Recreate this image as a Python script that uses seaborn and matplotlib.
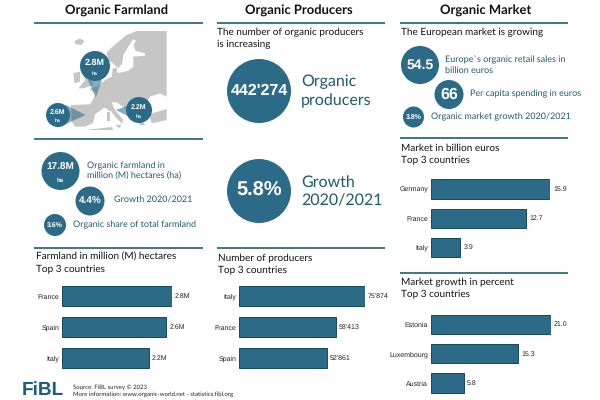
import seaborn as sns
import pandas as pd
import matplotlib.pyplot as plt
from matplotlib.patches import Circle, Polygon

TEAL = "#2b6b87"
DARK = "#14495e"
TXT = "#1f5b70"
RULE = "#1d5f72"
LAND = "#c6c6c6"
GILL = "Lato"
ARIAL = "Liberation Sans"

farm_countries = ["France", "Spain", "Italy"]
farm_values = [2.78, 2.64, 2.19]
farm_labels = ["2.8M", "2.6M", "2.2M"]
prod_countries = ["Italy", "France", "Spain"]
prod_values = [75874, 58413, 52861]
prod_labels = ["75'874", "58'413", "52'861"]
market_countries = ["Germany", "France", "Italy"]
market_values = [15.9, 12.7, 3.9]
growth_countries = ["Estonia", "Luxembourg", "Austria"]
growth_values = [21.0, 15.3, 5.8]

sns.set_theme(style="white")
plt.rcParams["font.family"] = GILL
plt.rcParams["text.hinting"] = "no_hinting"
plt.rcParams["text.hinting_factor"] = 1

fig = plt.figure(figsize=(6, 4), dpi=100, facecolor="white")
# full-figure axes in pixel units for rules, bubbles and text
bg = fig.add_axes([0, 0, 1, 1])
bg.set_xlim(0, 600)
bg.set_ylim(400, 0)
bg.axis("off")


def bars(left, top, width, height, names, values, labels):
    ax = fig.add_axes([left / 600, 1 - (top + height) / 400, width / 600, height / 400])
    df = pd.DataFrame({"name": names, "value": values})
    sns.barplot(data=df, x="value", y="name", color=TEAL, saturation=1, width=0.66,
                edgecolor=DARK, linewidth=0.7, ax=ax)
    ax.set_xlim(0, max(values))
    ax.set_xlabel("")
    ax.set_ylabel("")
    ax.set_xticks([])
    ax.tick_params(axis="y", length=0, pad=2)
    for t in ax.get_yticklabels():
        t.set_fontfamily(ARIAL)
        t.set_fontsize(4.7)
        t.set_color("#222222")
    for b, lab in zip(ax.patches, labels):
        ax.annotate(lab, (b.get_width(), b.get_y() + b.get_height() / 2), xytext=(2.2, 0),
                    textcoords="offset points", va="center", fontsize=4.8,
                    family=ARIAL, color="#222222", annotation_clip=False)
    sns.despine(ax=ax, left=True, bottom=True)
    ax.patch.set_alpha(0)


def bubble(x, y, r, text, size, unit=None):
    bg.add_patch(Circle((x, y), r, fc=TEAL, ec="none", zorder=5))
    if unit:
        bg.text(x, y - r * 0.2, text, ha="center", va="center", color="white", weight="bold",
                family=ARIAL, fontsize=size, zorder=6)
        bg.text(x, y + r * 0.5, unit, ha="center", va="center", color="white", weight="bold",
                family=ARIAL, fontsize=max(size * 0.6, 3.6), zorder=6)
    else:
        bg.text(x, y, text, ha="center", va="center", color="white", weight="bold",
                family=ARIAL, fontsize=size, zorder=6)


def rule(x0, x1, y):
    bg.plot([x0, x1], [y, y], color=RULE, lw=1.2, solid_capstyle="butt")


def label(x, y, text, size=6.3, color=TXT):
    bg.text(x, y, text, ha="left", va="center", fontsize=size, color=color)


# column headers
for cx, head in [(117, "Organic Farmland"), (299, "Organic Producers"), (486, "Organic Market")]:
    bg.text(cx, 11, head, ha="center", va="center", fontsize=9.5, weight="bold", color="#111111")

rule(34, 203, 23)
rule(34, 203, 138.5)
rule(34, 203, 247.5)
rule(217, 385, 23)
rule(217, 385, 247.5)
rule(400, 568, 23)
rule(400, 568, 137.5)
rule(400, 568, 273)

# rough map of Europe, traced from a 3x crop starting at (65, 25)
land = [
    [(18, 240), (75, 238), (95, 205), (72, 192), (100, 183), (120, 165), (140, 155), (143, 130), (155, 128),
     (158, 145), (190, 137), (205, 125), (205, 95), (240, 92), (240, 85), (212, 78), (205, 60), (213, 48),
     (205, 42), (190, 65), (175, 90), (172, 115), (160, 130), (140, 112), (128, 105), (125, 82), (150, 58),
     (185, 30), (215, 18), (305, 18), (305, 215), (285, 205), (255, 215), (245, 235), (252, 250), (240, 255),
     (245, 275), (232, 285), (240, 300), (225, 300), (205, 275), (180, 250), (155, 232), (140, 232),
     (150, 255), (175, 285), (170, 295), (155, 280), (135, 255), (118, 248), (90, 268), (84, 294), (60, 305),
     (30, 305), (20, 290)],
    [(252, 268), (305, 252), (305, 285), (260, 295)],
    [(50, 105), (65, 115), (75, 160), (85, 180), (55, 190), (40, 190), (60, 165)],
    [(25, 145), (45, 140), (45, 170), (28, 175)],
    [(28, 48), (45, 40), (58, 48), (50, 60), (32, 58)],
    [(127, 262), (136, 262), (136, 288), (127, 288)],
    [(128, 245), (134, 245), (134, 258), (128, 258)],
    [(150, 302), (168, 298), (165, 310)],
    [(62, 315), (140, 306), (145, 315)],
]
for poly in land:
    pts = [(65 + zx / 3, 25 + zy / 3) for zx, zy in poly]
    bg.add_patch(Polygon(pts, fc=LAND, ec="none", zorder=1))

for tri in [[(88, 80), (102, 80), (95.7, 97.7)], [(66, 105), (66, 124), (85.7, 115)], [(130, 105), (130, 117), (115.7, 110)]]:
    bg.add_patch(Polygon(tri, fc=TEAL, ec="none", alpha=0.55, zorder=2))

bubble(95, 66, 15, "2.8M", 6.4, "ha")
bubble(58, 115, 12, "2.6M", 4.9, "ha")
bubble(139, 110, 13, "2.2M", 4.9, "ha")

# farmland figures
bubble(60.5, 171, 19, "17.8M", 7.4, "ha")
bubble(90, 201, 14.5, "4.4%", 7.4)
bubble(55, 225, 11, "3.6%", 4.9)
label(87, 166, "Organic farmland in")
label(87, 176, "million (M) hectares (ha)")
label(114, 200.5, "Growth 2020/2021")
label(73, 224.5, "Organic share of total farmland")

label(36, 257, "Farmland in million (M) hectares", 7.3, "#111111")
label(36, 269, "Top 3 countries", 7.3, "#111111")
bars(62, 280.5, 110, 93, farm_countries, farm_values, farm_labels)

# producers
label(217, 32, "The number of organic producers", 7.3, "#111111")
label(217, 44, "is increasing", 7.3, "#111111")
bubble(259, 91, 32, "442'274", 11.3)
label(301, 82, "Organic", 11.8)
label(301, 101, "producers", 11.8)
bubble(259, 191, 32, "5.8%", 14.5)
label(301, 182, "Growth", 11.8)
label(301, 201, "2020/2021", 11.8)

label(218, 258, "Number of producers", 7.3, "#111111")
label(218, 270, "Top 3 countries", 7.3, "#111111")
bars(239, 280.5, 126, 93, prod_countries, prod_values, prod_labels)

# market
label(401, 32, "The European market is growing", 7.3, "#111111")
bubble(420, 65, 19, "54.5", 10.4)
bubble(449, 94.5, 14.5, "66", 11.5)
bubble(413.5, 117, 10.5, "3.8%", 4.7)
label(445, 60, "Europe`s organic retail sales in")
label(445, 70, "billion euros")
label(470, 94, "Per capita spending in euros")
label(431, 117, "Organic market growth 2020/2021")

label(401, 148, "Market in billion euros", 7.3, "#111111")
label(401, 160, "Top 3 countries", 7.3, "#111111")
bars(431, 174.5, 119, 87.5, market_countries, market_values, [f"{v:.1f}" for v in market_values])

label(401, 282, "Market growth in percent", 7.3, "#111111")
label(401, 294, "Top 3 countries", 7.3, "#111111")
bars(431, 310, 120, 87.5, growth_countries, growth_values, [f"{v:.1f}" for v in growth_values])

# footer
bg.text(22, 390.5, "FiBL", ha="left", va="center", fontsize=13.5, weight="bold", color="#1d5f7d",
        family=ARIAL)
label(73, 387, "Source: FiBL survey © 2023", 4.2, "#222222")
label(73, 394, "More information: www.organic-world.net - statistics.fibl.org", 4.2, "#222222")

fig.savefig("out.png", dpi=100)
